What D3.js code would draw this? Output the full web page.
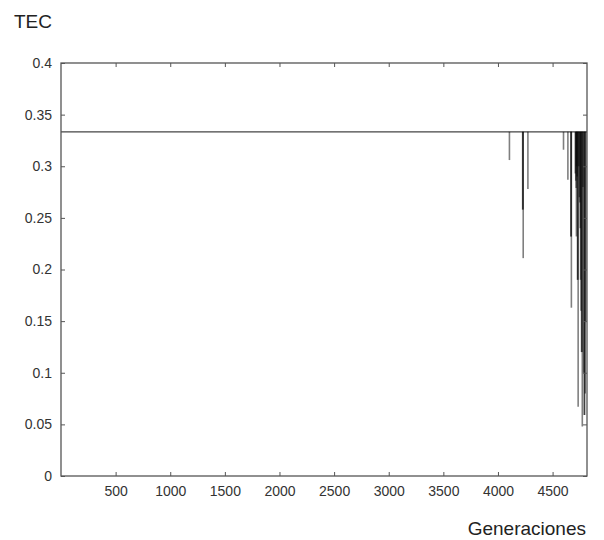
<!DOCTYPE html>
<html>
<head>
<meta charset="utf-8">
<script src="https://cdn.jsdelivr.net/npm/d3@7"></script>
<style>
  body { margin: 0; background: #fff; }
  svg { font-family: "Liberation Sans", Arial, sans-serif; display: block; }
</style>
</head>
<body>
<svg></svg>
<script>
// best TEC stays at 1/3, with dips at these generations
var baseTec = 1 / 3;
var maxGen = 4815;
var dipGens = [4105, 4226, 4229, 4231, 4274, 4600, 4640, 4668, 4670, 4672,
  4708, 4712, 4716, 4718, 4720, 4724, 4728, 4731, 4734, 4740, 4745, 4750,
  4753, 4756, 4760, 4765, 4769, 4772, 4778, 4785, 4790, 4793, 4798, 4805];
var dipTec = [0.306, 0.258, 0.258, 0.211, 0.278, 0.316, 0.287, 0.232, 0.232, 0.163,
  0.293, 0.286, 0.279, 0.232, 0.300, 0.290, 0.190, 0.190, 0.067, 0.300, 0.270, 0.265,
  0.240, 0.190, 0.160, 0.120, 0.120, 0.048, 0.280, 0.100, 0.059, 0.059, 0.080, 0.150];
var xTicks = [500, 1000, 1500, 2000, 2500, 3000, 3500, 4000, 4500];
var yTicks = [0, 0.05, 0.1, 0.15, 0.2, 0.25, 0.3, 0.35, 0.4];

var svgWidth = 604;
var svgHeight = 540;
var plotL = 61, plotR = 587, plotT = 63, plotB = 476;

var svg = d3.select("svg")
  .attr("width", svgWidth)
  .attr("height", svgHeight);

var x = d3.scaleLinear().domain([0, maxGen]).range([plotL, plotR]);
var y = d3.scaleLinear().domain([0, 0.4]).range([plotB, plotT]);

// data: flat line plus vertical dips
svg.append("line")
  .attr("x1", x(0)).attr("x2", x(maxGen))
  .attr("y1", y(baseTec)).attr("y2", y(baseTec))
  .attr("stroke", "#444").attr("stroke-width", 1.3);

svg.selectAll("line.dip")
  .data(dipGens)
  .enter()
  .append("line")
  .attr("class", "dip")
  .attr("x1", function(d) { return x(d); })
  .attr("x2", function(d) { return x(d); })
  .attr("y1", y(baseTec))
  .attr("y2", function(d, i) { return y(dipTec[i]); })
  .attr("stroke", "#000")
  .attr("stroke-opacity", 0.5)
  .attr("stroke-width", 1.6);

// axes, MATLAB style: box with inward ticks
var axisColor = "#555";
function styleAxis(g, showText) {
  g.select(".domain").remove();
  g.selectAll(".tick line").attr("stroke", axisColor);
  g.selectAll(".tick text")
    .attr("fill", "#333")
    .style("font-size", "14px")
    .style("display", showText ? null : "none");
}

svg.append("g")
  .attr("transform", "translate(0," + plotB + ")")
  .call(d3.axisBottom(x).tickValues(xTicks).tickSize(-4).tickPadding(10).tickFormat(d3.format("d")))
  .call(styleAxis, true);
svg.append("g")
  .attr("transform", "translate(0," + plotT + ")")
  .call(d3.axisTop(x).tickValues(xTicks).tickSize(-4))
  .call(styleAxis, false);
svg.append("g")
  .attr("transform", "translate(" + plotL + ",0)")
  .call(d3.axisLeft(y).tickValues(yTicks).tickSize(-4).tickPadding(9).tickFormat(d3.format("")))
  .call(styleAxis, true);
svg.append("g")
  .attr("transform", "translate(" + plotR + ",0)")
  .call(d3.axisRight(y).tickValues(yTicks).tickSize(-4))
  .call(styleAxis, false);

svg.append("rect")
  .attr("x", plotL).attr("y", plotT)
  .attr("width", plotR - plotL).attr("height", plotB - plotT)
  .attr("fill", "none")
  .attr("stroke", axisColor)
  .attr("stroke-width", 1.3);

svg.append("text")
  .attr("x", 14).attr("y", 28)
  .attr("font-size", 19)
  .attr("fill", "#222")
  .text("TEC");

svg.append("text")
  .attr("x", 586).attr("y", 535)
  .attr("text-anchor", "end")
  .attr("font-size", 19)
  .attr("fill", "#222")
  .text("Generaciones");
</script>
</body>
</html>
